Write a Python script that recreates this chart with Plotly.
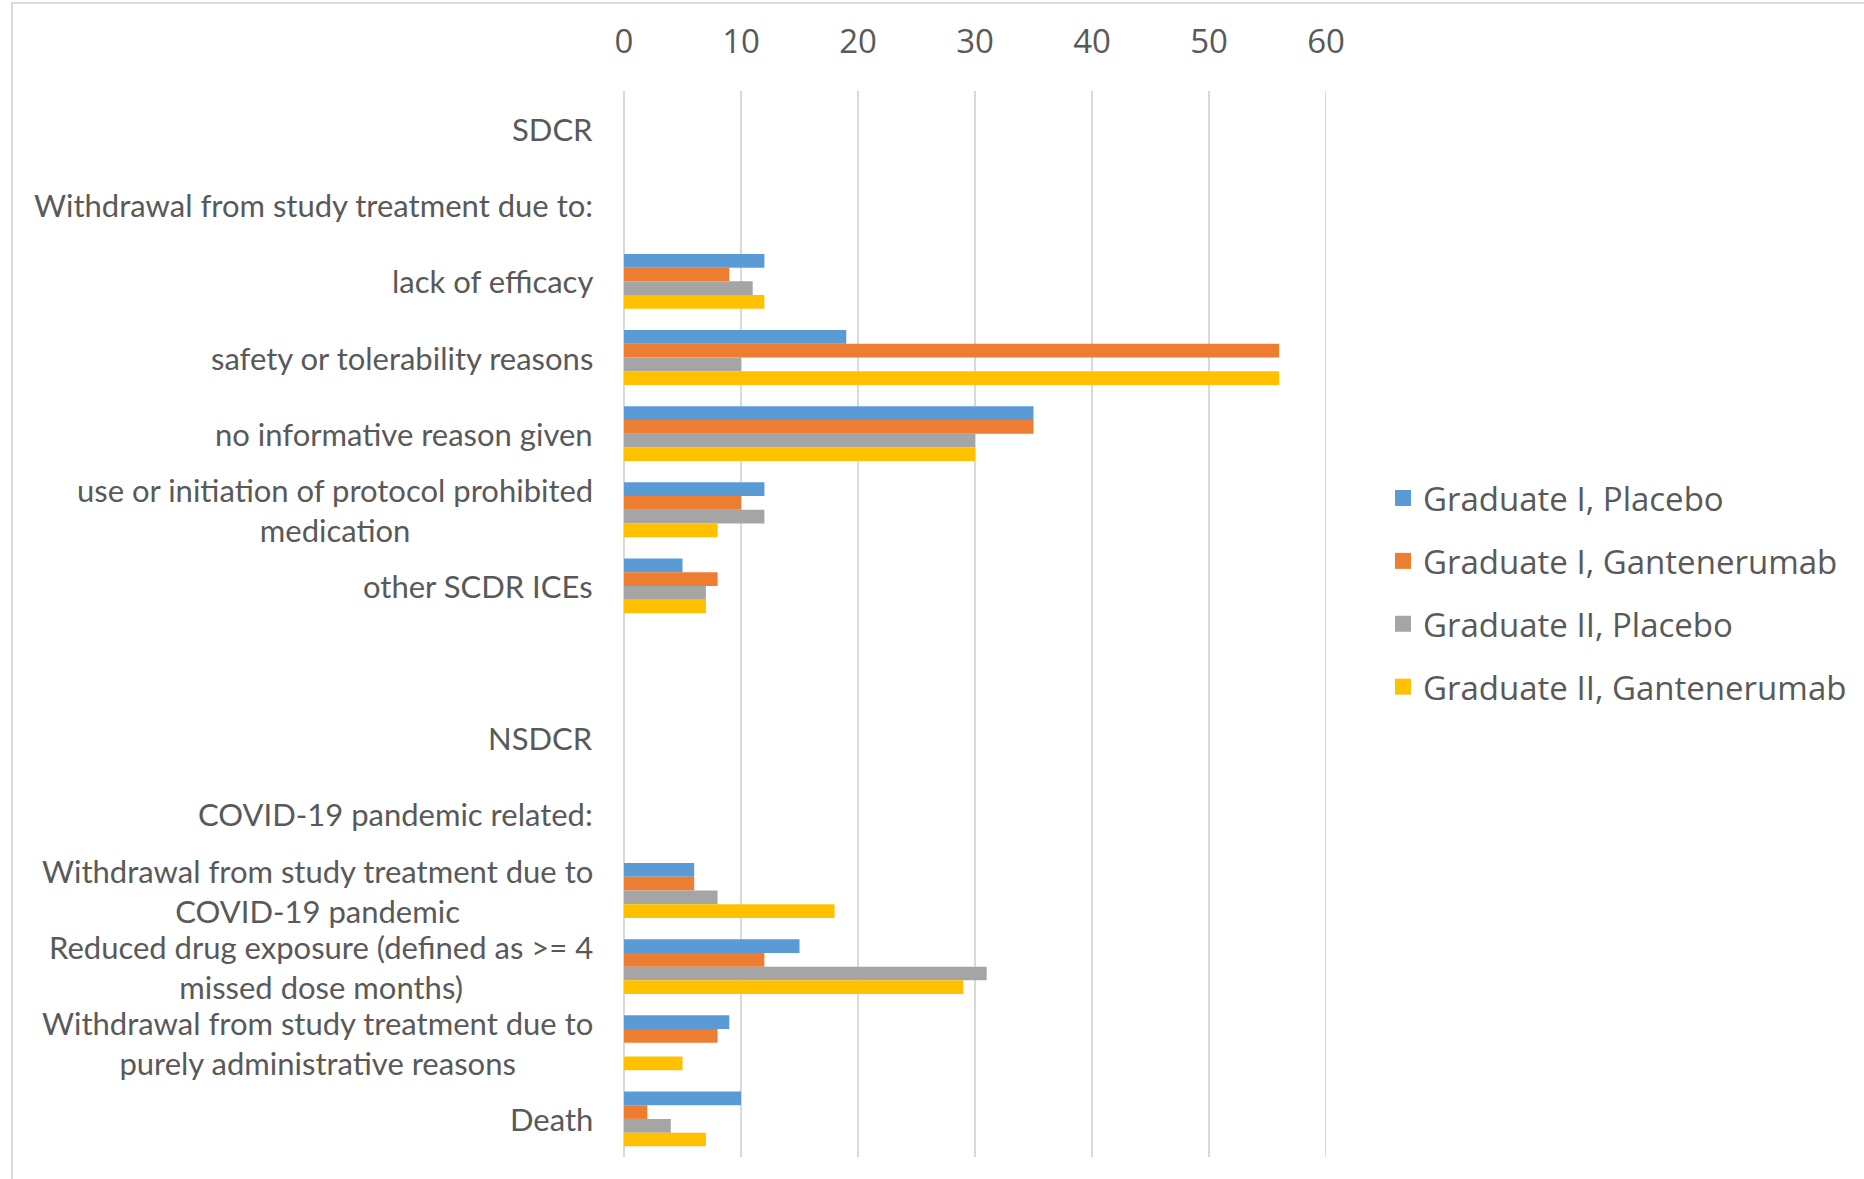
import plotly.graph_objects as go

# ---------------- data ----------------
categories = [
    "SDCR",
    "Withdrawal from study treatment due to:",
    "lack of efficacy",
    "safety or tolerability reasons",
    "no informative reason given",
    "use or initiation of protocol prohibited<br>medication",
    "other SCDR ICEs",
    " ",
    "NSDCR",
    "COVID-19 pandemic related:",
    "Withdrawal from study treatment due to<br>COVID-19 pandemic",
    "Reduced drug exposure (defined as >= 4<br>missed dose months)",
    "Withdrawal from study treatment due to<br>purely administrative reasons",
    "Death",
]

series_names = [
    "Graduate I, Placebo",
    "Graduate I, Gantenerumab",
    "Graduate II, Placebo",
    "Graduate II, Gantenerumab",
]

grad1_placebo = [None, None, 12, 19, 35, 12, 5, None, None, None, 6, 15, 9, 10]
grad1_gant = [None, None, 9, 56, 35, 10, 8, None, None, None, 6, 12, 8, 2]
grad2_placebo = [None, None, 11, 10, 30, 12, 7, None, None, None, 8, 31, 0, 4]
grad2_gant = [None, None, 12, 56, 30, 8, 7, None, None, None, 18, 29, 5, 7]

x_ticks = [0, 10, 20, 30, 40, 50, 60]

colors = ["#5B9BD5", "#ED7D31", "#A5A5A5", "#FFC000"]

# ---------------- layout geometry (pixels) ----------------
W, H = 1864, 1179
PL, PR = 624, 1326      # plot area left/right
PT, PB = 91, 1157       # plot area top/bottom
pw, ph = PR - PL, PB - PT


def px_x(px):
    return (px - PL) / pw


def px_y(py):
    return (PB - py) / ph


fig = go.Figure()

all_series = [grad1_placebo, grad1_gant, grad2_placebo, grad2_gant]
for name, vals, col in zip(series_names, all_series, colors):
    fig.add_trace(go.Bar(
        y=categories, x=vals, name=name, orientation="h",
        marker=dict(color=col, line=dict(width=0)),
        showlegend=False, hoverinfo="x+y+name",
    ))

# legend proxies (square swatches)
for i, (name, col) in enumerate(zip(series_names, colors)):
    fig.add_trace(go.Scatter(
        x=[None], y=[None], mode="markers", name=name,
        marker=dict(symbol="square", size=20, color=col),
        legendgroup=f"g{i}", showlegend=True,
    ))

# category labels as annotations (centered multi-line like the original)
annotations = []
for i, lab in enumerate(categories):
    annotations.append(dict(
        x=px_x(595), xref="paper", y=i, yref="y",
        text=lab, showarrow=False, xanchor="right", yanchor="middle",
        align="center",
        font=dict(family="Lato, Carlito, sans-serif", size=31, color="#595959"),
    ))

shapes = [
    # chart-area border (top and left edges visible)
    dict(type="rect", xref="paper", yref="paper",
         x0=px_x(12), x1=px_x(1900), y0=px_y(1200), y1=px_y(3),
         line=dict(color="#D9D9D9", width=2), fillcolor="rgba(0,0,0,0)",
         layer="below"),
    # gridline at the axis maximum (plotly omits the one on the range edge)
    dict(type="line", xref="x", yref="paper",
         x0=x_ticks[-1], x1=x_ticks[-1], y0=0, y1=1,
         line=dict(color="#D9D9D9", width=2), layer="below"),
]

fig.update_layout(
    width=W, height=H,
    margin=dict(l=PL, r=W - PR, t=PT, b=H - PB, pad=0),
    paper_bgcolor="white", plot_bgcolor="white",
    barmode="group", bargap=0.28, bargroupgap=0,
    annotations=annotations, shapes=shapes,
    legend=dict(
        x=px_x(1383), y=px_y(470), xanchor="left", yanchor="top",
        font=dict(family="Open Sans, sans-serif", size=33, color="#595959"),
        tracegroupgap=17, itemwidth=30, bgcolor="rgba(0,0,0,0)",
    ),
    xaxis=dict(
        side="top", range=[x_ticks[0], x_ticks[-1]], tickvals=x_ticks,
        ticktext=[str(v) for v in x_ticks],
        showgrid=True, gridcolor="#D9D9D9", gridwidth=2,
        zeroline=True, zerolinecolor="#D9D9D9", zerolinewidth=2,
        showline=False, ticks="",
        tickfont=dict(family="Open Sans, sans-serif", size=33, color="#595959"),
        ticklabelstandoff=30,
    ),
    yaxis=dict(
        type="category", categoryorder="array", categoryarray=categories,
        autorange="reversed", showticklabels=False,
        showgrid=False, zeroline=False, showline=False, ticks="",
    ),
    font=dict(family="Open Sans, sans-serif", color="#595959"),
)

fig.write_html("out.html")
